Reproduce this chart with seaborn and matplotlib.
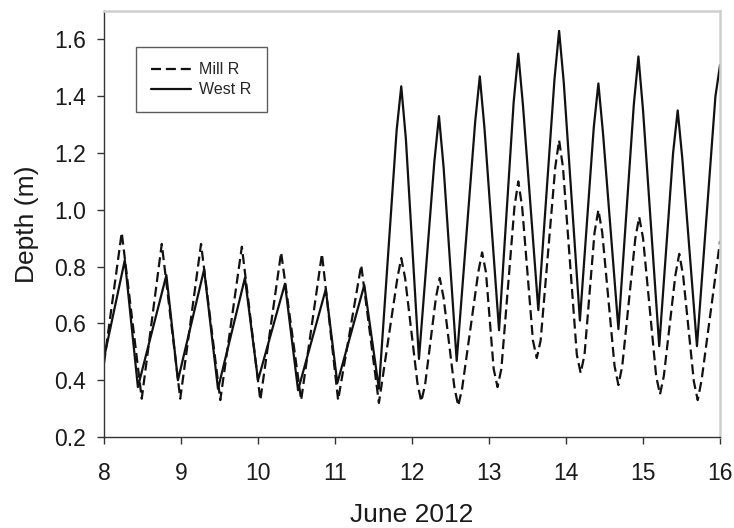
import matplotlib
matplotlib.use("Agg")
import matplotlib.pyplot as plt
import seaborn as sns
import pandas as pd

# Tidal depth records, June 2012 (day of month, depth in m)
mill_day = [8.00, 8.23, 8.49, 8.75, 8.99, 9.26, 9.51, 9.79, 10.03, 10.30, 10.56,
            10.83, 11.04, 11.34, 11.57, 11.81, 11.86, 11.91, 12.07, 12.12, 12.17,
            12.31, 12.36, 12.41, 12.55, 12.60, 12.65, 12.86, 12.91, 12.96, 13.06,
            13.11, 13.16, 13.33, 13.38, 13.43, 13.57, 13.62, 13.67, 13.86, 13.91,
            13.96, 14.14, 14.19, 14.24, 14.37, 14.42, 14.47, 14.63, 14.68, 14.73,
            14.90, 14.95, 15.00, 15.17, 15.22, 15.27, 15.42, 15.47, 15.52, 15.66,
            15.71, 15.76, 16.00]
mill_depth = [0.46, 0.92, 0.335, 0.88, 0.335, 0.88, 0.33, 0.87, 0.33, 0.85, 0.33,
              0.845, 0.33, 0.805, 0.32, 0.76, 0.83, 0.76, 0.39, 0.325, 0.385,
              0.69, 0.76, 0.69, 0.375, 0.31, 0.37, 0.78, 0.85, 0.78, 0.44,
              0.376, 0.44, 1.01, 1.10, 1.01, 0.54, 0.478, 0.54, 1.15, 1.245,
              1.15, 0.49, 0.425, 0.49, 0.92, 1.00, 0.92, 0.45, 0.383, 0.45,
              0.90, 0.975, 0.90, 0.415, 0.35, 0.415, 0.77, 0.845, 0.77, 0.395,
              0.33, 0.40, 0.89]

west_day = [8.00, 8.27, 8.44, 8.81, 8.96, 9.30, 9.48, 9.83, 10.00, 10.35, 10.52,
            10.88, 11.03, 11.38, 11.57, 11.80, 11.86, 11.92, 12.09, 12.29, 12.35,
            12.41, 12.58, 12.82, 12.88, 12.94, 13.13, 13.32, 13.38, 13.44, 13.64,
            13.85, 13.91, 13.97, 14.18, 14.36, 14.42, 14.48, 14.68, 14.88, 14.94,
            15.00, 15.21, 15.39, 15.45, 15.51, 15.70, 15.94, 16.00]
west_depth = [0.478, 0.823, 0.376, 0.77, 0.40, 0.79, 0.37, 0.76, 0.40, 0.74, 0.365,
              0.72, 0.39, 0.735, 0.37, 1.28, 1.435, 1.25, 0.475, 1.17, 1.33,
              1.15, 0.468, 1.31, 1.47, 1.29, 0.576, 1.38, 1.55, 1.37, 0.647,
              1.46, 1.63, 1.45, 0.61, 1.29, 1.445, 1.27, 0.58, 1.37, 1.54,
              1.35, 0.52, 1.20, 1.35, 1.18, 0.52, 1.40, 1.51]

site_names = ["Mill R", "West R"]
x_ticks = [8, 9, 10, 11, 12, 13, 14, 15, 16]
y_ticks = [0.2, 0.4, 0.6, 0.8, 1.0, 1.2, 1.4, 1.6]

df = pd.concat([
    pd.DataFrame({"day": mill_day, "depth": mill_depth, "site": site_names[0]}),
    pd.DataFrame({"day": west_day, "depth": west_depth, "site": site_names[1]}),
], ignore_index=True)

sns.set_theme(style="ticks")
plt.rcParams["font.family"] = ["Liberation Sans", "DejaVu Sans"]

fig = plt.figure(figsize=(7.34, 5.28), dpi=100)
ax = fig.add_axes([0.1417, 0.1723, 0.8393, 0.8068])

sns.lineplot(data=df, x="day", y="depth", hue="site", style="site",
             hue_order=site_names, style_order=site_names,
             palette=["#111111", "#111111"],
             dashes={"Mill R": (4.5, 2.2), "West R": ""},
             linewidth=1.6, sort=False, estimator=None, ax=ax)

ax.set_xlim(8, 16)
ax.set_ylim(0.2, 1.7)
ax.set_xticks(x_ticks)
ax.set_xticklabels([str(t) for t in x_ticks])
ax.set_yticks(y_ticks)
ax.set_yticklabels([f"{t:.1f}" for t in y_ticks])
ax.tick_params(axis="both", direction="out", length=5, width=1.0,
               color="#333333", labelsize=16.5, labelcolor="#1a1a1a")
ax.tick_params(axis="y", pad=8)
ax.tick_params(axis="x", pad=13)

ax.set_xlabel("June 2012", fontsize=19, color="#1a1a1a", labelpad=13)
ax.set_ylabel("Depth (m)", fontsize=19, color="#1a1a1a", labelpad=11)

for side in ("left", "bottom"):
    ax.spines[side].set_color("#333333")
    ax.spines[side].set_linewidth(1.0)
for side in ("top", "right"):
    ax.spines[side].set_visible(True)
    ax.spines[side].set_color("#cfcfcf")
    ax.spines[side].set_linewidth(1.8)

leg = ax.legend(loc="upper left", bbox_to_anchor=(0.052, 0.915), borderaxespad=0,
                fontsize=11.5, handlelength=2.5, borderpad=0.95, labelspacing=0.3,
                handletextpad=0.5, frameon=True, fancybox=False, title=None)
leg.get_frame().set_edgecolor("#333333")
leg.get_frame().set_linewidth(1.0)

fig.savefig("out.png", dpi=100)
